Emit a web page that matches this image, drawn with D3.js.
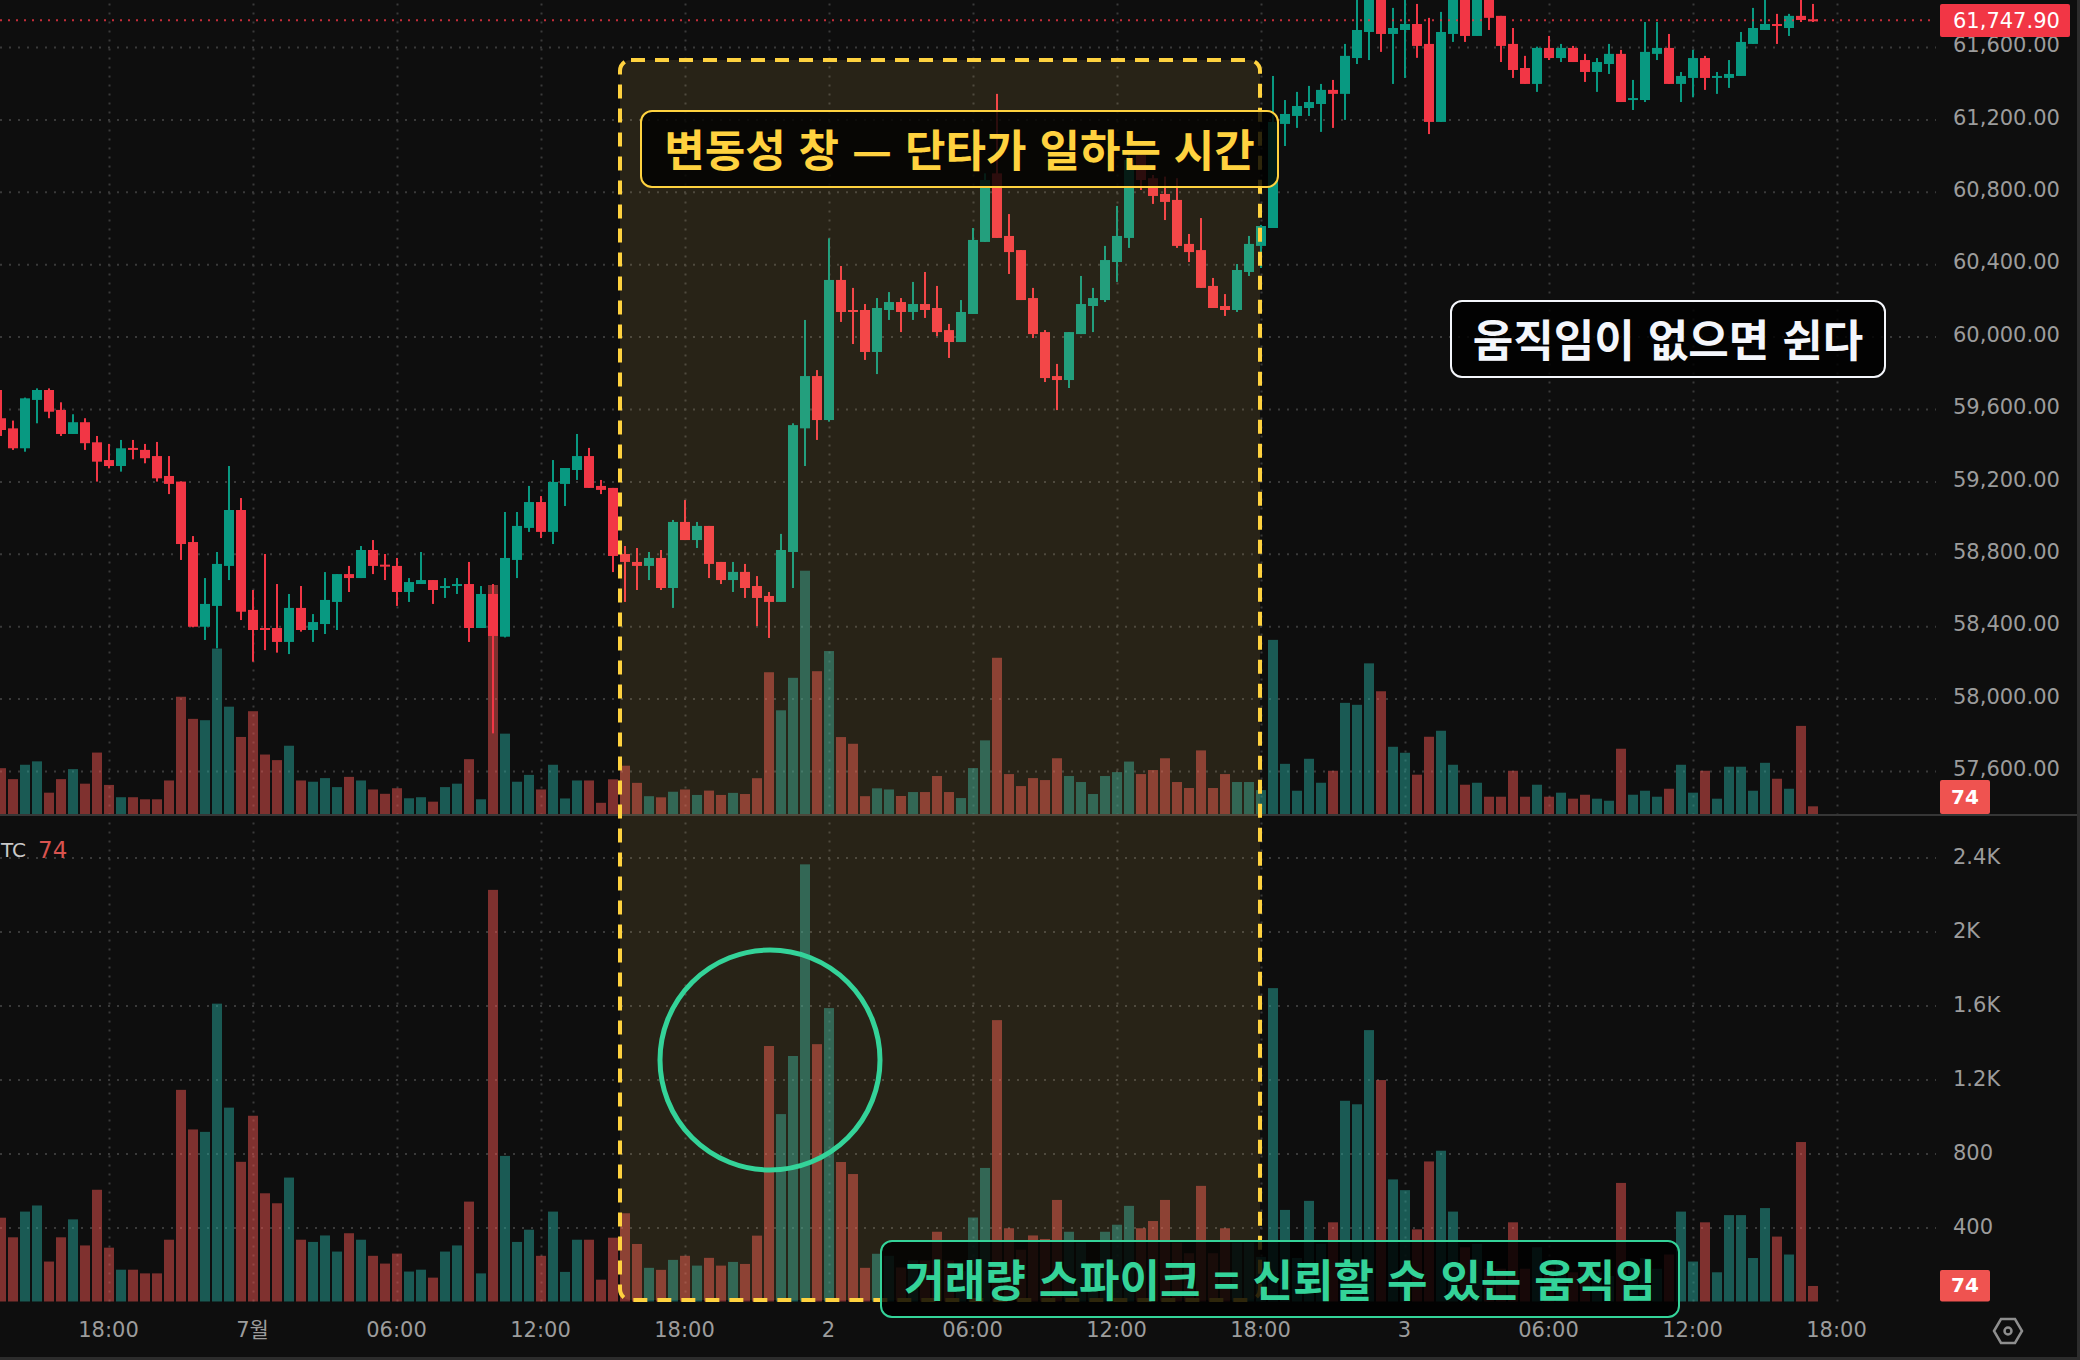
<!DOCTYPE html>
<html>
<head>
<meta charset="utf-8">
<script src="https://d3js.org/d3.v7.min.js"></script>
<style>
  html, body { margin: 0; padding: 0; background: #0e0e0e; overflow: hidden; }
  svg { display: block; }
  .tick text { font-family: "DejaVu Sans", sans-serif; }
  .note { font-family: "Noto Sans CJK KR", sans-serif; font-weight: 700; word-spacing: 3px; }
</style>
</head>
<body>
<svg id="chart" width="2080" height="1360"></svg>
<script>
// 30 minute BTC candles
const opens = [59549,59493,59383,59650,59705,59595,59462,59527,59416,59318,59285,59385,59374,59340,59230,59199,58865,58397,58512,58733,59042,58490,58390,58390,58313,58501,58379,58412,58534,58688,58666,58821,58740,58733,58589,58633,58655,58615,58626,58633,58390,58578,58342,58766,58943,59086,58921,59186,59263,59340,59175,59164,58799,58755,58733,58777,58611,58976,58876,58954,58755,58655,58700,58622,58567,58534,58810,59493,59782,59539,60313,60147,60147,59915,60147,60191,60136,60180,60158,60036,59970,60125,60523,60902,60556,60478,60213,60025,59782,59760,60014,60169,60202,60412,60545,61003,60875,60788,60755,60512,60478,60280,60169,60147,60357,60501,60600,61175,61219,61263,61285,61363,61341,61539,61683,61915,61672,61694,61727,61617,61186,61672,61915,61661,61897,61772,61617,61484,61396,61595,61539,61595,61528,61462,61506,61562,61307,61307,61562,61595,61396,61429,61539,61429,61429,61440,61617,61694,61727,61705,61772,61753];
const highs = [59705,59536,59663,59714,59714,59637,59571,59549,59451,59407,59429,59429,59407,59418,59340,59199,58898,58666,58810,59285,59108,58600,58799,58633,58578,58622,58467,58699,58688,58733,58843,58876,58799,58777,58666,58810,58655,58666,58666,58755,58622,58633,59031,59031,59175,59119,59318,59274,59462,59385,59208,59164,58843,58832,58810,58821,58987,59097,58976,58954,58755,58755,58744,58677,58589,58910,59521,60092,59815,60543,60390,60269,60180,60213,60246,60213,60302,60357,60280,60070,60202,60600,60902,61341,60677,60478,60269,60036,59849,60025,60335,60269,60501,60722,61013,61013,60893,60884,60875,60567,60655,60324,60235,60401,60556,60617,61440,61307,61352,61385,61396,61418,61617,61878,61970,61970,61816,61878,61838,61761,61794,61952,61952,61952,61934,61772,61705,61551,61602,61661,61617,61606,61562,61539,61617,61584,61418,61738,61738,61672,61462,61584,61551,61462,61528,61683,61816,61878,61783,61783,61869,61838];
const lows = [59451,59374,59364,59521,59549,59451,59462,59374,59199,59272,59254,59322,59300,59199,59130,58766,58394,58324,58278,58655,58434,58204,58268,58254,58246,58370,58313,58357,58379,58589,58666,58688,58655,58512,58534,58633,58523,58556,58578,58313,58390,57808,58338,58666,58921,58887,58854,59064,59208,59164,59130,58699,58534,58600,58655,58600,58501,58876,58832,58666,58633,58589,58556,58401,58335,58534,58611,59285,59429,59530,60081,59959,59871,59793,60092,60025,60092,60103,60003,59882,59970,60125,60523,60545,60346,60202,59992,59749,59594,59716,60014,60025,60191,60302,60490,60810,60733,60644,60490,60412,60269,60158,60114,60136,60335,60379,60600,61053,61153,61219,61131,61153,61197,61506,61528,61573,61396,61429,61540,61119,61186,61628,61628,61661,61694,61517,61429,61396,61352,61528,61517,61517,61407,61352,61451,61296,61252,61296,61528,61396,61296,61322,61363,61341,61374,61440,61617,61694,61617,61661,61738,61738];
const closes = [59484,59383,59659,59705,59585,59462,59527,59411,59309,59285,59383,59377,59328,59217,59186,58854,58397,58523,58744,59042,58480,58379,58383,58313,58501,58379,58423,58545,58688,58666,58821,58733,58733,58589,58644,58655,58600,58622,58633,58390,58578,58346,58777,58954,59086,58921,59197,59274,59340,59164,59153,58788,58755,58733,58777,58611,58976,58876,58954,58744,58655,58700,58611,58556,58534,58821,59511,59782,59539,60313,60136,60136,59915,60158,60191,60136,60180,60147,60025,59970,60136,60534,60865,60545,60467,60202,60014,59771,59760,60025,60180,60213,60423,60556,60976,60865,60777,60744,60501,60467,60269,60158,60147,60368,60512,60611,61186,61230,61274,61296,61363,61341,61551,61694,61915,61672,61705,61727,61606,61186,61683,61915,61661,61897,61761,61606,61473,61396,61595,61539,61595,61517,61462,61517,61562,61296,61318,61573,61595,61396,61440,61539,61429,61440,61451,61628,61705,61727,61716,61772,61749,61748];
const volumes = [453,347,486,519,216,347,444,303,604,291,172,172,152,152,334,1144,930,917,1610,1048,755,1004,585,531,670,334,322,357,270,369,334,247,205,259,162,172,129,270,303,540,152,2225,787,322,388,247,486,160,334,334,118,345,477,311,182,171,225,247,194,236,194,214,203,356,1381,1013,1327,2363,1391,1586,754,689,182,258,247,184,222,222,377,222,164,454,722,1521,396,280,357,338,549,377,319,203,377,415,517,396,435,549,319,261,625,261,396,319,319,241,1694,495,235,544,312,428,1085,1066,1467,1197,660,602,390,757,815,486,293,312,177,177,428,177,293,177,216,158,196,158,138,641,196,235,177,254,486,216,428,158,467,467,235,505,351,254,862,84];

const priceTicks = [61600,61200,60800,60400,60000,59600,59200,58800,58400,58000,57600];
const volumeTicks = [400,800,1200,1600,2000,2400];
const volumeTickLabels = ["400","800","1.2K","1.6K","2K","2.4K"];
const timeTickBars = [9,21,33,45,57,69,81,93,105,117,129,141,153];
const timeTickLabels = ["18:00","7월","06:00","12:00","18:00","2","06:00","12:00","18:00","3","06:00","12:00","18:00"];
const lastPrice = 61747.9;
const lastVolume = 74;

const upColor = "#089981", downColor = "#f23645";
const volUpColor = "#26a69a", volDownColor = "#ef5350";
const yellow = "#ffd23f", mint = "#34d399";
const gridColor = "#3a3a3a", textColor = "#9c9c9c";

const svg = d3.select("#chart");
const plotRight = 1936;

// scales
const x = d3.scaleLinear().domain([0, 151]).range([1, 1813]);
const yPrice = d3.scaleLinear().domain([57600, 61600]).range([771, 47]);
const yVol = d3.scaleLinear().domain([0, 2400]).range([1301.5, 857.5]);
const yOverlay = d3.scaleLinear().domain([0, 2370]).range([815, 570]);

const isUp = i => closes[i] >= opens[i];
const bars = d3.range(volumes.length);

svg.append("rect").attr("width", 2080).attr("height", 1360).attr("fill", "#0e0e0e");

// grid, done with axes so the ticks come from the scales
const gridDash = "2 7";
svg.append("g").attr("transform", "translate(0,1301.5)")
  .call(d3.axisBottom(x).tickValues(timeTickBars).tickSize(-1301.5).tickFormat(""))
  .call(g => g.select(".domain").remove())
  .selectAll("line").attr("stroke", gridColor).attr("stroke-width", 2).attr("stroke-dasharray", gridDash);
[[yPrice, priceTicks], [yVol, volumeTicks]].forEach(([scale, ticks]) => {
  svg.append("g")
    .call(d3.axisLeft(scale).tickValues(ticks).tickSize(-plotRight).tickFormat(""))
    .call(g => g.select(".domain").remove())
    .selectAll("line").attr("stroke", gridColor).attr("stroke-width", 2).attr("stroke-dasharray", gridDash);
});

// volume overlay in the price pane
svg.append("g").selectAll("rect").data(bars).join("rect")
  .attr("x", i => x(i) - 5)
  .attr("width", 10)
  .attr("y", i => yOverlay(volumes[i]))
  .attr("height", i => 815 - yOverlay(volumes[i]))
  .attr("fill", i => isUp(i) ? volUpColor : volDownColor)
  .attr("fill-opacity", 0.5);

// candles
const candles = svg.append("g").selectAll("g").data(bars).join("g")
  .attr("fill", i => isUp(i) ? upColor : downColor);
candles.append("rect")
  .attr("x", i => x(i) - 1)
  .attr("width", 2)
  .attr("y", i => yPrice(highs[i]))
  .attr("height", i => yPrice(lows[i]) - yPrice(highs[i]));
candles.append("rect")
  .attr("x", i => x(i) - 5)
  .attr("width", 10)
  .attr("y", i => yPrice(Math.max(opens[i], closes[i])))
  .attr("height", i => Math.max(2, Math.abs(yPrice(opens[i]) - yPrice(closes[i]))));

// volume pane
svg.append("g").selectAll("rect").data(bars).join("rect")
  .attr("x", i => x(i) - 5)
  .attr("width", 10)
  .attr("y", i => yVol(volumes[i]))
  .attr("height", i => yVol(0) - yVol(volumes[i]))
  .attr("fill", i => isUp(i) ? volUpColor : volDownColor)
  .attr("fill-opacity", 0.5);

// pane divider
svg.append("line").attr("x1", 0).attr("x2", 2077).attr("y1", 815).attr("y2", 815)
  .attr("stroke", "#363636").attr("stroke-width", 2);

// last price line
svg.append("line").attr("x1", 0).attr("x2", 1936)
  .attr("y1", yPrice(lastPrice)).attr("y2", yPrice(lastPrice))
  .attr("stroke", downColor).attr("stroke-opacity", 0.8).attr("stroke-width", 2).attr("stroke-dasharray", "2 6");

// axis labels
const axisFont = 21;
svg.append("g").attr("transform", "translate(1942,-2)")
  .call(d3.axisRight(yPrice).tickValues(priceTicks).tickSize(0).tickPadding(11).tickFormat(d => d3.format(",.2f")(d)))
  .call(g => g.select(".domain").remove())
  .selectAll("text").attr("fill", textColor).attr("font-size", axisFont);
svg.append("g").attr("transform", "translate(1942,-1)")
  .call(d3.axisRight(yVol).tickValues(volumeTicks).tickSize(0).tickPadding(11).tickFormat((d, i) => volumeTickLabels[i]))
  .call(g => g.select(".domain").remove())
  .selectAll("text").attr("fill", textColor).attr("font-size", axisFont);
svg.append("g").attr("transform", "translate(-1,1322)")
  .call(d3.axisBottom(x).tickValues(timeTickBars).tickSize(0).tickPadding(0).tickFormat((d, i) => timeTickLabels[i]))
  .call(g => g.select(".domain").remove())
  .selectAll("text").attr("fill", textColor).attr("font-size", axisFont)
  .style("font-family", "'DejaVu Sans', 'Noto Sans CJK KR', sans-serif");

// value tags on the price scale
function tag(x0, y0, w, h, label, size) {
  svg.append("rect").attr("x", x0).attr("y", y0).attr("width", w).attr("height", h).attr("rx", 2)
    .attr("fill", size > 20 ? downColor : "#ef5350");
  svg.append("text").attr("x", x0 + (size > 20 ? 13 : w / 2)).attr("y", y0 + h / 2 + 1)
    .attr("dominant-baseline", "middle").attr("text-anchor", size > 20 ? "start" : "middle")
    .attr("fill", "#ffffff").attr("font-size", size).attr("font-weight", size > 20 ? 400 : 700)
    .style("font-family", "'DejaVu Sans', sans-serif").text(label);
}
tag(1940, 4, 130, 33, d3.format(",.2f")(lastPrice), 21);
tag(1940, 780, 50, 34, String(lastVolume), 20);
tag(1940, 1270, 50, 31.5, String(lastVolume), 20);

// pane legend
svg.append("text").attr("x", 1).attr("y", 857).attr("fill", "#c8c8c8").attr("font-size", 20)
  .style("font-family", "'DejaVu Sans', sans-serif").text("TC");
svg.append("text").attr("x", 38).attr("y", 858).attr("fill", "#d9534f").attr("font-size", 23)
  .style("font-family", "'DejaVu Sans', sans-serif").text(String(lastVolume));

// settings icon
const icon = svg.append("g").attr("transform", "translate(2008,1331)")
  .attr("fill", "none").attr("stroke", "#8e8e8e").attr("stroke-width", 2.5);
icon.append("path").attr("d", "M-14,0 L-7,-12 L7,-12 L14,0 L7,12 L-7,12 Z");
icon.append("circle").attr("r", 3.5);

// outer edge
svg.append("rect").attr("x", 2077).attr("y", 0).attr("width", 3).attr("height", 1360).attr("fill", "#2c2c2c");
svg.append("rect").attr("x", 0).attr("y", 1357).attr("width", 2080).attr("height", 3).attr("fill", "#2c2c2c");

// annotations on top of the chart
svg.append("rect").attr("x", 620).attr("y", 60).attr("width", 640).attr("height", 1240).attr("rx", 11)
  .attr("fill", "#ffd566").attr("fill-opacity", 0.11)
  .attr("stroke", yellow).attr("stroke-width", 4).attr("stroke-dasharray", "14 10");

svg.append("circle").attr("cx", 770).attr("cy", 1060).attr("r", 110)
  .attr("fill", "none").attr("stroke", mint).attr("stroke-width", 5);

function note(x0, y0, w, h, color, label, size) {
  svg.append("rect").attr("x", x0).attr("y", y0).attr("width", w).attr("height", h).attr("rx", 11)
    .attr("fill", "#000000").attr("fill-opacity", 0.82)
    .attr("stroke", color).attr("stroke-width", 2);
  svg.append("text").attr("class", "note")
    .attr("x", x0 + w / 2).attr("y", y0 + h / 2 - 1)
    .attr("text-anchor", "middle").attr("dominant-baseline", "central")
    .attr("fill", color).attr("font-size", size).text(label);
}
note(641, 111, 637, 76, yellow, "변동성 창 — 단타가 일하는 시간", 44);
note(1451, 301, 434, 76, "#f4f6fb", "움직임이 없으면 쉰다", 44);
note(881, 1241, 798, 76, mint, "거래량 스파이크 = 신뢰할 수 있는 움직임", 44);
</script>
</body>
</html>
